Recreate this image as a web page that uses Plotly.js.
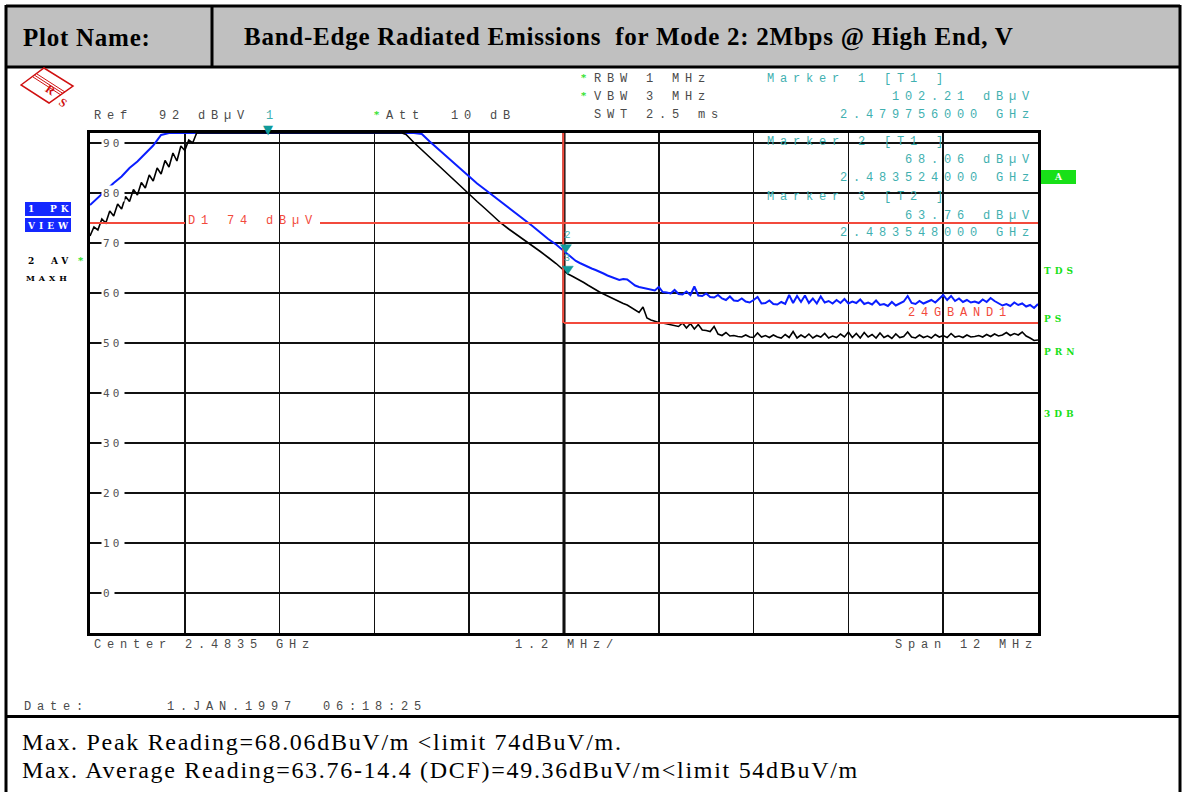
<!DOCTYPE html>
<html><head><meta charset="utf-8">
<script src="https://cdn.plot.ly/plotly-3.0.1.min.js"></script>
<style>
html,body{margin:0;padding:0;background:#fff;}
#chart{width:1184px;height:792px;}
text[style*="Liberation Mono"]{letter-spacing:5.8px;}
text[style*="DejaVu Sans Mono"]{letter-spacing:3.2px;}
text[style*="DejaVu Serif"]{letter-spacing:4px;}
</style></head><body><div id="chart"></div>
<script>
// ---------------- data (MHz / dBµV) ----------------
const blueRiseFreq  = [2477.5,2477.6,2477.7,2477.8,2477.9,2478.0,2478.1,2478.2,2478.3,2478.4,2478.5,2481.6];
const blueRiseLevel = [77.6,79.1,80.4,82.0,83.3,85.0,86.3,87.9,89.5,91.6,92,92];
const blueFallFreq  = [2481.7,2481.8,2481.9,2482.0,2482.1,2482.2,2482.3,2482.4,2482.5,2482.6,2482.7,2482.8,2482.9,2483.0,2483.1,2483.2,2483.3,2483.4,2483.5];
const blueFallLevel = [91.8,90.3,88.9,87.5,86.0,84.6,83.1,81.9,80.7,79.5,78.3,77.0,75.9,74.6,73.4,72.1,70.8,69.7,68.4];

const blackRiseFreq  = [2477.5,2477.55,2477.6,2477.65,2477.7,2477.75,2477.8,2477.85,2477.9,2477.95,2478.0,2478.05,2478.1,2478.15,2478.2,2478.25,2478.3,2478.35,2478.4,2478.45,2478.5,2478.55,2478.6,2478.65,2478.7,2478.75,2478.8,2478.85,2481.45];
const blackRiseLevel = [71.4,73.2,72.6,74.8,74.0,76.4,75.4,77.8,76.8,79.3,78.3,80.7,79.6,82.1,81.0,83.6,82.4,85.0,83.8,86.5,85.2,88.0,86.4,89.4,88.5,90.6,90.0,92,92];
const blackFallFreq  = [2481.5,2481.6,2481.7,2481.8,2481.9,2482.0,2482.1,2482.2,2482.3,2482.4,2482.5,2482.6,2482.7,2482.8,2482.9,2483.0,2483.1,2483.2,2483.3,2483.4,2483.5];
const blackFallLevel = [91.7,90.1,88.6,87.2,85.7,84.2,82.8,81.3,79.8,78.3,76.9,75.4,74.0,72.8,71.7,70.6,69.5,68.3,67.1,65.9,64.5];

const tailFreq = [
 2483.55,2483.6,2483.65,2483.7,2483.75,2483.8,2483.85,2483.9,2483.95,2484.0,
 2484.05,2484.1,2484.15,2484.2,2484.25,2484.3,2484.35,2484.4,2484.45,2484.5,
 2484.55,2484.6,2484.65,2484.7,2484.75,2484.8,2484.85,2484.9,2484.95,2485.0,
 2485.05,2485.1,2485.15,2485.2,2485.25,2485.3,2485.35,2485.4,2485.45,2485.5,
 2485.55,2485.6,2485.65,2485.7,2485.75,2485.8,2485.85,2485.9,2485.95,2486.0,
 2486.05,2486.1,2486.15,2486.2,2486.25,2486.3,2486.35,2486.4,2486.45,2486.5,
 2486.55,2486.6,2486.65,2486.7,2486.75,2486.8,2486.85,2486.9,2486.95,2487.0,
 2487.05,2487.1,2487.15,2487.2,2487.25,2487.3,2487.35,2487.4,2487.45,2487.5,
 2487.55,2487.6,2487.65,2487.7,2487.75,2487.8,2487.85,2487.9,2487.95,2488.0,
 2488.05,2488.1,2488.15,2488.2,2488.25,2488.3,2488.35,2488.4,2488.45,2488.5,
 2488.55,2488.6,2488.65,2488.7,2488.75,2488.8,2488.85,2488.9,2488.95,2489.0,
 2489.05,2489.1,2489.15,2489.2,2489.25,2489.3,2489.35,2489.4,2489.45,2489.5];
const blueTailLevel = [
 67.6,67.0,66.4,66.0,65.6,65.2,64.9,64.6,64.3,63.9,
 63.5,63.2,62.9,62.6,62.8,62.7,62.1,61.5,61.2,61.0,
 60.8,60.7,60.5,61.2,60.2,60.1,59.9,60.6,59.8,59.7,
 60.3,59.6,61.3,59.5,59.4,59.9,59.2,59.1,59.6,58.9,
 58.6,59.3,58.5,58.4,58.9,58.3,58.1,58.6,59.2,57.9,
 58.0,58.5,57.8,57.7,58.2,57.8,59.6,58.0,59.4,58.2,
 59.5,58.0,58.9,57.9,59.3,58.1,58.4,57.9,58.6,58.0,
 58.8,57.9,58.3,58.0,58.7,57.8,58.1,57.7,58.5,57.6,
 57.8,57.4,58.2,57.5,57.9,58.3,59.4,58.0,57.8,58.4,
 57.9,58.2,58.6,58.1,58.8,59.6,58.6,59.4,58.4,58.9,
 58.2,58.6,58.1,58.3,58.0,58.7,58.2,59.0,58.4,57.9,
 57.5,57.8,57.4,58.1,57.6,57.9,57.3,57.6,57.0,57.8];
const blackTailLevel = [
 63.8,63.4,63.0,62.6,62.1,61.6,61.1,60.7,60.2,59.8,
 59.4,59.0,58.6,58.2,57.9,57.6,57.1,56.6,56.1,57.2,
 55.0,54.6,54.3,54.1,54.0,53.8,53.7,53.5,53.3,54.0,
 53.0,53.9,52.8,53.7,52.6,52.5,52.3,53.3,51.8,51.5,
 52.1,51.4,51.5,51.3,51.2,51.6,51.2,51.1,52.0,51.2,
 51.5,51.1,51.6,51.2,51.0,51.7,51.1,52.3,51.0,51.6,
 51.1,51.8,51.0,51.5,51.2,51.9,51.0,51.4,51.1,51.8,
 51.2,52.2,51.1,51.9,51.0,52.1,51.2,51.7,51.0,52.0,
 51.1,51.5,50.9,51.8,51.1,51.3,52.2,51.2,51.0,51.6,
 51.1,51.4,51.0,51.7,51.2,51.5,51.1,51.9,51.2,51.4,
 51.1,51.6,51.2,51.3,51.5,51.2,51.7,51.3,51.8,51.4,
 51.6,52.1,51.5,51.9,51.6,52.2,51.4,51.0,50.5,50.6];

const markerFreq  = [2479.756, 2483.524, 2483.548];
const markerLevel = [102.21, 68.06, 63.76];
const markerLabel = ['1', '2', '3'];

const refLevel = 92, displayFloor = -8;
const startFreq = 2477.5, stopFreq = 2489.5, freqPerDiv = 1.2;
const peakLimit = 74, avgLimit = 54, bandEdge = 2483.5;
const yTickValues = [90,80,70,60,50,40,30,20,10,0];
const yTickLabels = ['90','80','70','60','50','40','30','20','10','0'];

const headerLeft  = 'Plot Name:';
const headerTitle = 'Band-Edge Radiated Emissions\u00a0 for Mode 2: 2Mbps @ High End, V';
const noteLines = ['Max. Peak Reading=68.06dBuV/m <limit 74dBuV/m.',
                   'Max. Average Reading=63.76-14.4 (DCF)=49.36dBuV/m<limit 54dBuV/m'];

// ---------------- layout helpers ----------------
const L = 90, R = 146, T = 133, B = 159, W = 1184, H = 792;
const PW = W - L - R, PH = H - T - B;
const px = v => (v - L) / PW;
const py = v => (H - B - v) / PH;

const MONO = 'Liberation Mono', TICKF = 'DejaVu Sans Mono', SMALL = 'DejaVu Serif';
const GRAY = '#4a4a4a', TEAL = '#3fb0b0', RED = '#f24a3c', GREEN = '#18e018', BLUE = '#1428ff';
const MKCOL = '#0f9a9a';

const annotations = [];
function txt(x, y, text, o = {}) {
  const anchor = o.anchor || 'left';
  annotations.push({
    xref: 'paper', yref: o.yref || 'paper',
    x: px(x), y: o.yref ? y : py(y),
    text: text, showarrow: false,
    xanchor: anchor, yanchor: 'middle', align: anchor,
    font: {family: o.family || MONO, size: o.size || 12, color: o.color || GRAY, weight: o.weight || 'normal'},
    bgcolor: o.bg || 'rgba(0,0,0,0)', borderpad: o.pad || 0
  });
}

// instrument header texts
txt(93, 116, 'Ref\u00a0\u00a0' + refLevel + ' dBµV');
txt(265, 116, markerLabel[0], {color: TEAL});
txt(373, 115, '*', {family: SMALL, size: 10, color: GREEN, weight: 'bold'});
txt(385, 116, 'Att\u00a0\u00a010 dB');
txt(580, 78, '*', {family: SMALL, size: 10, color: GREEN, weight: 'bold'});
txt(593, 79, 'RBW 1 MHz');
txt(580, 96, '*', {family: SMALL, size: 10, color: GREEN, weight: 'bold'});
txt(593, 97, 'VBW 3 MHz');
txt(593, 115, 'SWT 2.5 ms');

const mkY = [[79, 97, 115], [142, 160, 178], [197, 215.5, 233]];
const mkTrace = ['T1', 'T1', 'T2'];
for (let i = 0; i < 3; i++) {
  txt(766, mkY[i][0], 'Marker ' + markerLabel[i] + ' [' + mkTrace[i] + ' ]', {color: TEAL});
  txt(1036, mkY[i][1], markerLevel[i].toFixed(2) + ' dBµV', {color: TEAL, anchor: 'right'});
  txt(1036, mkY[i][2], (markerFreq[i] / 1000).toFixed(9) + ' GHz', {color: TEAL, anchor: 'right'});
}
txt(563, 235, markerLabel[1], {color: TEAL, size: 11});
txt(563, 258, markerLabel[2], {color: TEAL, size: 10});

txt(187, 221, 'D1 ' + peakLimit + ' dBµV', {color: RED});
txt(907, 313, '24GBAND1', {color: RED});

txt(93, 645, 'Center ' + (bandEdge / 1000).toFixed(4) + ' GHz');
txt(514, 645, freqPerDiv + ' MHz/');
txt(1039, 645, 'Span ' + (stopFreq - startFreq) + ' MHz', {anchor: 'right'});
txt(23, 707, 'Date:\u00a0\u00a0\u00a0\u00a0\u00a0\u00a01.JAN.1997\u00a0\u00a006:18:25');

// left & right side labels
txt(27, 209, '1', {family: SMALL, size: 9, color: '#fff', weight: 'bold'});
txt(49, 209, 'PK', {family: SMALL, size: 9, color: '#fff', weight: 'bold'});
txt(26, 225.5, 'VIEW', {family: SMALL, size: 9, color: '#fff', weight: 'bold'});
txt(27, 261, '2', {family: SMALL, size: 9, color: '#000', weight: 'bold'});
txt(49, 261, 'AV', {family: SMALL, size: 9, color: '#000', weight: 'bold'});
txt(77, 260, '*', {family: SMALL, size: 10, color: GREEN, weight: 'bold'});
txt(25, 278, 'MAXH', {family: SMALL, size: 8, color: '#000', weight: 'bold'});
txt(1053, 177, 'A', {family: SMALL, size: 9, color: '#fff', weight: 'bold'});
txt(1043, 271, 'TDS', {family: SMALL, size: 9, color: GREEN, weight: 'bold'});
txt(1043, 319, 'PS', {family: SMALL, size: 9, color: GREEN, weight: 'bold'});
txt(1043, 352, 'PRN', {family: SMALL, size: 9, color: GREEN, weight: 'bold'});
txt(1043, 414, '3DB', {family: SMALL, size: 9, color: GREEN, weight: 'bold'});

// y tick labels inside the grid
yTickValues.forEach((v, i) => {
  txt(101, v, yTickLabels[i], {yref: 'y', family: TICKF, size: 11, color: '#555', bg: '#fff', pad: 1});
});

// table texts
txt(22, 37, headerLeft, {family: 'Liberation Serif', size: 25, color: '#000', weight: 'bold'});
txt(243, 37, headerTitle, {family: 'Liberation Serif', size: 25, color: '#000', weight: 'bold'});
txt(21, 742, noteLines[0], {family: 'Liberation Serif', size: 24, color: '#000'});
txt(21, 770, noteLines[1], {family: 'Liberation Serif', size: 24, color: '#000'});

// logo letters
annotations.push({xref: 'paper', yref: 'paper', x: px(40), y: py(79), text: 'R', showarrow: false,
  textangle: 35, font: {family: 'Liberation Serif', size: 12, color: '#d01010', weight: 'bold'}});
annotations.push({xref: 'paper', yref: 'paper', x: px(54), y: py(92), text: 'S', showarrow: false,
  textangle: 35, font: {family: 'Liberation Serif', size: 12, color: '#d01010', weight: 'bold'}});
// marker 1 (off-scale) shown at top edge
annotations.push({xref: 'x', yref: 'paper', x: markerFreq[0], y: 1, yanchor: 'bottom', yshift: -6,
  text: '▼', showarrow: false, font: {family: 'DejaVu Sans', size: 13, color: MKCOL}});

// ---------------- shapes ----------------
const shapes = [];
function rectPx(x0, y0, x1, y1, fill, line, lw, layer) {
  shapes.push({type: 'rect', xref: 'paper', yref: 'paper', x0: px(x0), x1: px(x1), y0: py(y1), y1: py(y0),
    fillcolor: fill || 'rgba(0,0,0,0)', line: {color: line || 'rgba(0,0,0,0)', width: lw || 0}, layer: layer || 'above'});
}
function linePx(x0, y0, x1, y1, color, w) {
  shapes.push({type: 'line', xref: 'paper', yref: 'paper', x0: px(x0), x1: px(x1), y0: py(y0), y1: py(y1),
    line: {color: color, width: w}, layer: 'above'});
}
rectPx(6, 6, 1180, 67, '#c0c0c0', null, 0, 'below');
linePx(6, 6, 1180, 6, '#000', 3);
linePx(6, 5, 6, 792, '#000', 3);
linePx(1180, 5, 1180, 792, '#000', 3);
linePx(6, 67, 1180, 67, '#000', 3);
linePx(212, 6, 212, 67, '#000', 3);
linePx(6, 716.5, 1180, 716.5, '#000', 3);

// side boxes
rectPx(25, 202, 71, 216, BLUE, null, 0, 'below');
rectPx(25, 218, 71, 232, BLUE, null, 0, 'below');
rectPx(1041, 170, 1076, 184, GREEN, null, 0, 'below');

// logo diamond
const P = (x, y) => px(x).toFixed(5) + ',' + py(y).toFixed(5);
shapes.push({type: 'path', xref: 'paper', yref: 'paper', layer: 'above',
  path: 'M' + P(21, 85) + 'L' + P(44, 68) + 'L' + P(73, 86) + 'L' + P(49, 103) + 'Z',
  line: {color: '#d01010', width: 1.5}});
shapes.push({type: 'path', xref: 'paper', yref: 'paper', layer: 'above',
  path: 'M' + P(33, 77) + 'L' + P(61, 95) + 'M' + P(35, 75.5) + 'L' + P(63, 93.5) + 'M' + P(37, 74) + 'L' + P(65, 92),
  line: {color: '#d01010', width: 1}});

// limit lines (D1 peak, 24GBAND1 average) and band edge
shapes.push({type: 'line', xref: 'x', yref: 'y', x0: bandEdge, x1: bandEdge, y0: displayFloor, y1: refLevel,
  line: {color: '#000', width: 3}, layer: 'below'});
shapes.push({type: 'line', xref: 'paper', yref: 'y', x0: 0, x1: px(185), y0: peakLimit, y1: peakLimit,
  line: {color: RED, width: 1.8}, layer: 'above'});
shapes.push({type: 'line', xref: 'paper', yref: 'y', x0: px(320), x1: 1, y0: peakLimit, y1: peakLimit,
  line: {color: RED, width: 1.8}, layer: 'above'});
shapes.push({type: 'line', xref: 'x', yref: 'y', x0: bandEdge, x1: stopFreq, y0: avgLimit, y1: avgLimit,
  line: {color: RED, width: 1.8}, layer: 'above'});
shapes.push({type: 'line', xref: 'x', yref: 'y', x0: bandEdge - 0.01, x1: bandEdge - 0.01, y0: avgLimit, y1: refLevel,
  line: {color: RED, width: 2}, layer: 'above'});

// markers 2 and 3: triangles whose tip sits on the marker point (pixel-sized, data-anchored)
for (let i = 1; i < 3; i++) {
  shapes.push({type: 'path', xref: 'x', yref: 'y', xsizemode: 'pixel', ysizemode: 'pixel',
    xanchor: markerFreq[i], yanchor: markerLevel[i], path: 'M-5.5,8 L5.5,8 L0,0 Z',
    fillcolor: MKCOL, line: {color: MKCOL, width: 0.5}, layer: 'above'});
}

// ---------------- traces ----------------
const traces = [
  {x: blueRiseFreq.concat(blueFallFreq, tailFreq), y: blueRiseLevel.concat(blueFallLevel, blueTailLevel),
   mode: 'lines', line: {color: '#0a1eff', width: 2}, name: '1 PK'},
  {x: blackRiseFreq.concat(blackFallFreq, tailFreq), y: blackRiseLevel.concat(blackFallLevel, blackTailLevel),
   mode: 'lines', line: {color: '#000', width: 1.6}, name: '2 AV'}
];

const axisCommon = {showticklabels: false, ticks: '', showgrid: true, gridcolor: '#111', gridwidth: 1.5,
  showline: true, linecolor: '#000', linewidth: 3, mirror: true, zeroline: false, fixedrange: true};

const layout = {
  width: W, height: H, margin: {l: L, r: R, t: T, b: B, pad: 0},
  paper_bgcolor: '#fff', plot_bgcolor: '#fff', showlegend: false, hovermode: false,
  xaxis: Object.assign({range: [startFreq, stopFreq], tick0: startFreq, dtick: freqPerDiv}, axisCommon),
  yaxis: Object.assign({range: [displayFloor, refLevel], tick0: 0, dtick: 10}, axisCommon),
  annotations: annotations, shapes: shapes
};

Plotly.newPlot('chart', traces, layout, {staticPlot: true, displayModeBar: false}).then(gd => {
  // widen the table texts (left-anchored, so they grow to the right)
  gd.querySelectorAll('.annotation-text').forEach(t => {
    const s = t.textContent;
    if (s === headerLeft || s === headerTitle) t.style.letterSpacing = '0.75px';
    if (noteLines.indexOf(s) >= 0) t.style.letterSpacing = '1.7px';
  });
});
</script></body></html>
